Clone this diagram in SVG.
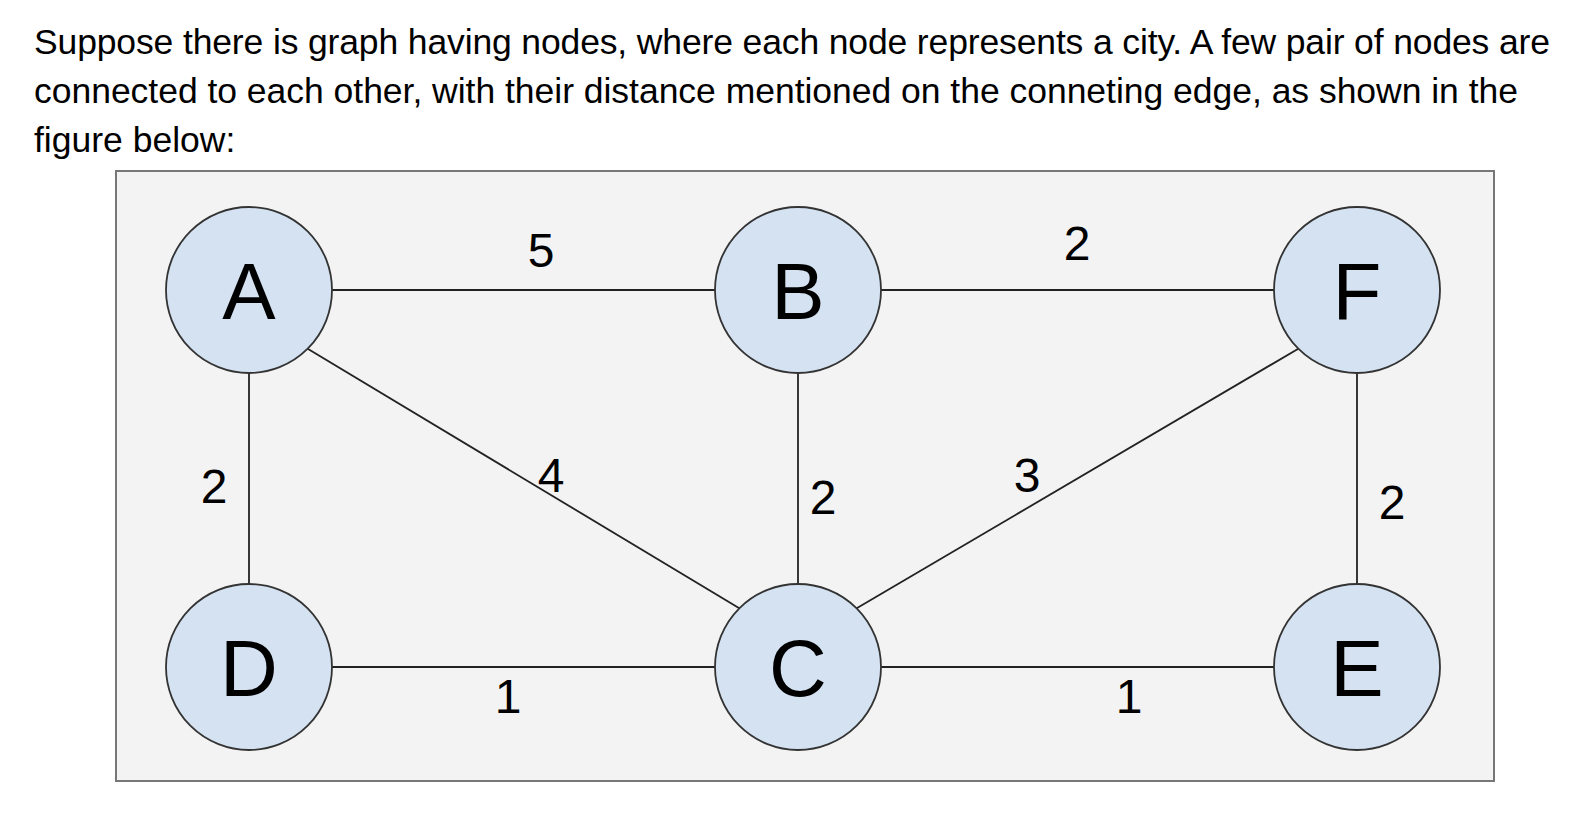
<svg xmlns="http://www.w3.org/2000/svg" width="1582" height="820" viewBox="0 0 1582 820">
<style>
.para{font-family:"Liberation Sans",Arial,sans-serif;font-size:35.5px;fill:#000}
.node circle{fill:#d4e2f2;stroke:#333;stroke-width:1.8}
.node text{font-family:"Liberation Sans",Arial,sans-serif;font-size:80px;fill:#000;text-anchor:middle}
.edges line{stroke:#222;stroke-width:1.8}
.lbl{font-family:"Liberation Sans",Arial,sans-serif;font-size:48px;fill:#000;text-anchor:middle}
</style>
<rect width="1582" height="820" fill="#fff"/>
<text class="para" x="34" y="54" textLength="1516" lengthAdjust="spacing">Suppose there is graph having nodes, where each node represents a city. A few pair of nodes are</text>
<text class="para" x="34" y="103" textLength="1484" lengthAdjust="spacing">connected to each other, with their distance mentioned on the conneting edge, as shown in the</text>
<text class="para" x="34" y="152">figure below:</text>
<rect x="116" y="171" width="1378" height="610" fill="#f3f3f3" stroke="#777" stroke-width="2"/>
<g id="connectors" class="edges">
<line x1="332" y1="290" x2="715" y2="290"/>
<line x1="881" y1="290" x2="1274" y2="290"/>
<line x1="332" y1="667" x2="715" y2="667"/>
<line x1="881" y1="667" x2="1274" y2="667"/>
<line x1="249" y1="373" x2="249" y2="584"/>
<line x1="798" y1="373" x2="798" y2="584"/>
<line x1="1357" y1="373" x2="1357" y2="584"/>
<line x1="307.7" y1="348.7" x2="739.3" y2="608.3"/>
<line x1="1298.3" y1="348.7" x2="856.7" y2="608.3"/>
<text class="lbl" x="541" y="267">5</text>
<text class="lbl" x="1077" y="260">2</text>
<text class="lbl" x="214" y="503">2</text>
<text class="lbl" x="551" y="492">4</text>
<text class="lbl" x="823" y="514">2</text>
<text class="lbl" x="1027" y="492">3</text>
<text class="lbl" x="1392" y="519">2</text>
<text class="lbl" x="508" y="713">1</text>
<text class="lbl" x="1129" y="713">1</text>
</g>
<g id="node-A" class="node"><circle cx="249" cy="290" r="83"/><text x="249" y="319">A</text></g>
<g id="node-B" class="node"><circle cx="798" cy="290" r="83"/><text x="798" y="319">B</text></g>
<g id="node-F" class="node"><circle cx="1357" cy="290" r="83"/><text x="1357" y="319">F</text></g>
<g id="node-D" class="node"><circle cx="249" cy="667" r="83"/><text x="249" y="696">D</text></g>
<g id="node-C" class="node"><circle cx="798" cy="667" r="83"/><text x="798" y="696">C</text></g>
<g id="node-E" class="node"><circle cx="1357" cy="667" r="83"/><text x="1357" y="696">E</text></g>
</svg>
